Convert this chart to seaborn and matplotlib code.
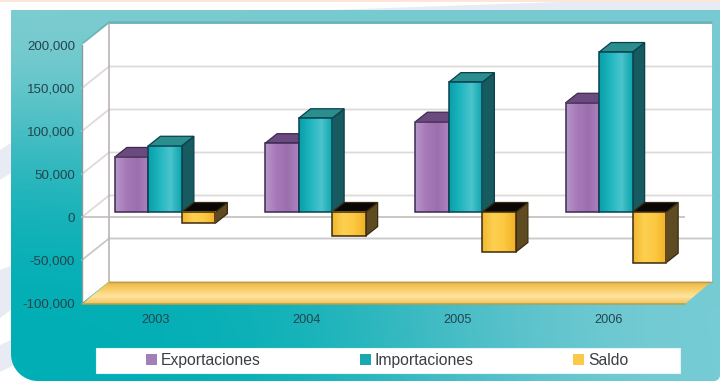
import numpy as np
import matplotlib
matplotlib.use("Agg")
import matplotlib.pyplot as plt
from matplotlib.colors import LinearSegmentedColormap, to_rgb
from matplotlib.patches import Patch, Polygon, Rectangle
import pandas as pd
import seaborn as sns

# Trade figures per year
years = ["2003", "2004", "2005", "2006"]
exportaciones = [64000, 80000, 105000, 127000]
importaciones = [77000, 109000, 151000, 186000]
saldo = [-13000, -28000, -46500, -59000]
series_names = ["Exportaciones", "Importaciones", "Saldo"]
y_ticks = [-100000, -50000, 0, 50000, 100000, 150000, 200000]

W, H = 720, 381
PX_PER_UNIT = 43 / 50000
DEPTH_X, DEPTH_Y = 27, 21.5            # depth of the whole 3D box, in pixels
BAR_DX, BAR_DY = 12, 9.5               # depth of one bar, in pixels

FACE = {"Exportaciones": ["#b497c8", "#a878b8", "#9a70ac", "#b080c0"],
        "Importaciones": ["#089fa8", "#1fb6c0", "#4cc4cc", "#0aa5ad"],
        "Saldo": ["#f0b830", "#fdd050", "#fcc840", "#f0b028"]}
SWATCH = {"Exportaciones": "#a27fb8", "Importaciones": "#1aa8b0", "Saldo": "#fbc94a"}
TOP = {"Exportaciones": "#6b4a80", "Importaciones": "#2a8f8c", "Saldo": "#0a0806"}
SIDE = {"Exportaciones": "#5c4070", "Importaciones": "#175a60", "Saldo": "#5e4b22"}
EDGE = {"Exportaciones": "#3c2a50", "Importaciones": "#0a3f50", "Saldo": "#3a2a10"}
TEXT = "#23454f"
GRID = "#dedad8"

sns.set_theme(style="white")
plt.rcParams["font.family"] = ["Liberation Sans", "DejaVu Sans"]

fig = plt.figure(figsize=(W / 100, H / 100), dpi=100, facecolor="#ffffff")


def axes_px(left, top, right, bottom, **kw):
    """Axes placed by its pixel box, measured from the top-left of the figure."""
    return fig.add_axes([left / W, 1 - bottom / H, (right - left) / W, (bottom - top) / H], **kw)


def corner(cx, cy, r, a0, a1):
    """Points along a rounded corner, angles in degrees, y pointing down."""
    t = np.radians(np.linspace(a0, a1, 24))
    return list(zip(cx + r * np.cos(t), cy + r * np.sin(t)))


# Page backdrop and teal panel, on pixel coordinates
bg = axes_px(0, 0, W, H, zorder=0)
bg.set_xlim(0, W)
bg.set_ylim(H, 0)
bg.axis("off")
bg.add_patch(Rectangle((0, 0), W, 2.2, color="#fbe6da", lw=0))
for pts in ([(330, 10), (560, 2), (720, 2), (720, 10)],
            [(0, 150), (11, 143), (11, 173), (0, 180)],
            [(0, 270), (11, 266), (11, 310), (0, 318)],
            [(0, 345), (11, 340), (20, 362), (0, 372)]):
    bg.add_patch(Polygon(pts, closed=True, color="#e9ebf4", lw=0))

panel_colors = np.array([[to_rgb(c) for c in row] for row in (
    ["#7dcdd0", "#79cbd0", "#78cbd1", "#78cbd1"],
    ["#38b9c0", "#55c0c6", "#70c8ce", "#76cbd2"],
    ["#08afb6", "#10b0b8", "#50bec6", "#78ccd4"],
    ["#00aeb5", "#08b0b6", "#48bcc5", "#78ccd5"],
)])
panel_img = bg.imshow(panel_colors, extent=(11, W, H, 10), aspect="auto",
                      interpolation="bicubic", zorder=1)
clip = Polygon([(11, 10), (W, 10), (W, H - 6)] + corner(W - 6, H - 6, 6, 0, 90)
               + corner(11 + 27, H - 27, 27, 90, 180),
               closed=True, fc="none", ec="none", transform=bg.transData)
bg.add_patch(clip)
panel_img.set_clip_path(clip)
bg.set_xlim(0, W)
bg.set_ylim(H, 0)

# 3D box: side wall, back wall, floor
fx0, fx1 = 82, 685
f_y = lambda v: 217 - v * PX_PER_UNIT
bx0, bx1 = fx0 + DEPTH_X, fx1 + DEPTH_X - 0.5
bg.add_line(plt.Line2D([fx0 + 2, bx0, bx1], [f_y(200000) - 2, f_y(200000) - DEPTH_Y - 1, f_y(200000) - DEPTH_Y - 1],
                       color="#6fb0b4", lw=1.6, zorder=2))
bg.add_patch(Polygon([(bx0, f_y(200000) - DEPTH_Y), (bx1, f_y(200000) - DEPTH_Y),
                      (bx1, f_y(-100000) - DEPTH_Y), (bx0, f_y(-100000) - DEPTH_Y)],
                     closed=True, fc="#ffffff", ec="none", zorder=3))
bg.add_patch(Polygon([(fx0, f_y(200000)), (bx0, f_y(200000) - DEPTH_Y),
                      (bx0, f_y(-100000) - DEPTH_Y), (fx0, f_y(-100000))],
                     closed=True, fc="#ffffff", ec="none", zorder=3))
for v in y_ticks[1:-1]:
    bg.plot([fx0, bx0, bx1], [f_y(v), f_y(v) - DEPTH_Y, f_y(v) - DEPTH_Y],
            color=GRID if v != -50000 else "#c8c8c8", lw=1.3, zorder=4, solid_joinstyle="miter")
bg.plot([bx0, bx0], [f_y(200000) - DEPTH_Y, f_y(-100000) - DEPTH_Y], color="#b5aeb0", lw=1.1, zorder=4)
bg.plot([fx0, fx0], [f_y(200000), f_y(-100000)], color="#8a9a9e", lw=1.0, zorder=5)

floor = LinearSegmentedColormap.from_list("floor", ["#e6b345", "#f8cc62", "#ffe4a0", "#f3c25a"])
floor_img = bg.imshow(np.linspace(0, 1, 64)[:, None], cmap=floor, aspect="auto", zorder=5,
                      extent=(fx0, bx1, f_y(-100000) + 1, f_y(-100000) - DEPTH_Y))
floor_poly = Polygon([(fx0, f_y(-100000) + 1), (bx0, f_y(-100000) - DEPTH_Y),
                      (bx1, f_y(-100000) - DEPTH_Y), (fx1, f_y(-100000) + 1)],
                     closed=True, fc="none", ec="none", transform=bg.transData)
bg.add_patch(floor_poly)
floor_img.set_clip_path(floor_poly)
bg.plot([fx0, fx1], [f_y(-100000) + 1.2] * 2, color="#b2a24c", lw=1.1, zorder=6)
bg.plot([bx0, bx1], [f_y(-100000) - DEPTH_Y] * 2, color="#b89a58", lw=0.9, zorder=6)
bg.set_xlim(0, W)
bg.set_ylim(H, 0)

# Front plane: carries the axis labels and the front zero line
front = axes_px(80.5, f_y(200000), 684.5, f_y(-100000), zorder=2)
front.patch.set_alpha(0)
front.set_ylim(-100000, 200000)
front.set_xlim(-0.5, 3.5)
front.set_yticks(y_ticks, [f"{v:,}" for v in y_ticks])
front.set_xticks(range(len(years)), years)
front.tick_params(axis="y", length=0, pad=4, labelsize=9.6, labelcolor=TEXT)
front.tick_params(axis="x", length=0, pad=8, labelsize=9.2, labelcolor=TEXT)
front.axhline(0, xmin=0.003, color="#bdb8b4", lw=1.1)
sns.despine(ax=front, left=True, bottom=True)

# Bar plane: sits slightly behind the front of the box
bars_df = pd.DataFrame({
    "year": years * 3,
    "value": exportaciones + importaciones + saldo,
    "serie": np.repeat(series_names, len(years)),
})
ax = axes_px(90, 212 - 200000 * PX_PER_UNIT, 691, 212 + 100000 * PX_PER_UNIT, zorder=3)
ax.patch.set_alpha(0)
sns.barplot(data=bars_df, x="year", y="value", hue="serie", hue_order=series_names,
            palette=SWATCH, order=years, width=0.669, gap=0, errorbar=None,
            saturation=1, legend=False, ax=ax)
ax.set_xlim(-0.5, 3.5)
ax.set_ylim(-100000, 200000)
ax.axis("off")

px_x = 4 / 601                         # one pixel in category units
px_y = 1 / PX_PER_UNIT                 # one pixel in value units
dx, dy = BAR_DX * px_x, BAR_DY * px_y
rects = list(ax.patches)
for i, rect in enumerate(rects):
    serie = series_names[i // len(years)]
    year_index = i % len(years)
    box = rect.get_bbox()
    x0, x1 = box.x0, box.x1
    lo, hi = min(box.y0, box.y1), max(box.y0, box.y1)
    z = 10 + year_index * 10 + series_names.index(serie) * 3
    edge = EDGE[serie]
    ax.add_patch(Polygon([(x1, lo), (x1 + dx, lo + dy), (x1 + dx, hi + dy), (x1, hi)],
                         closed=True, fc=SIDE[serie], ec=edge, lw=0.9, zorder=z))
    ax.add_patch(Polygon([(x0, hi), (x0 + dx, hi + dy), (x1 + dx, hi + dy), (x1, hi)],
                         closed=True, fc=TOP[serie], ec=edge, lw=0.9, zorder=z))
    shade = LinearSegmentedColormap.from_list(serie, FACE[serie])
    ax.imshow(np.linspace(0, 1, 48)[None, :], cmap=shade, aspect="auto",
              extent=(x0, x1, lo, hi), zorder=z + 1)
    rect.set_facecolor("none")
    rect.set_edgecolor(edge)
    rect.set_linewidth(1.1)
    rect.set_zorder(z + 2)
ax.set_xlim(-0.5, 3.5)
ax.set_ylim(-100000, 200000)

# Legend strip
top_ax = axes_px(0, 0, W, H, zorder=4)
top_ax.set_xlim(0, W)
top_ax.set_ylim(H, 0)
top_ax.axis("off")
top_ax.add_patch(Rectangle((96, 348), 584, 25, fc="#ffffff", ec="#e4f4f5", lw=0.8))
handles = [Patch(facecolor=SWATCH[s], edgecolor="none", label=s) for s in series_names]
top_ax.legend(handles=handles, ncol=3, frameon=False, loc="center left",
              bbox_to_anchor=(146 / W, 1 - 360.5 / H), borderaxespad=0, borderpad=0,
              fontsize=11.3, labelcolor="#3a3f44", handlelength=0.72, handleheight=0.72,
              handletextpad=0.24, columnspacing=6.3)

fig.savefig("out.png", dpi=100)
